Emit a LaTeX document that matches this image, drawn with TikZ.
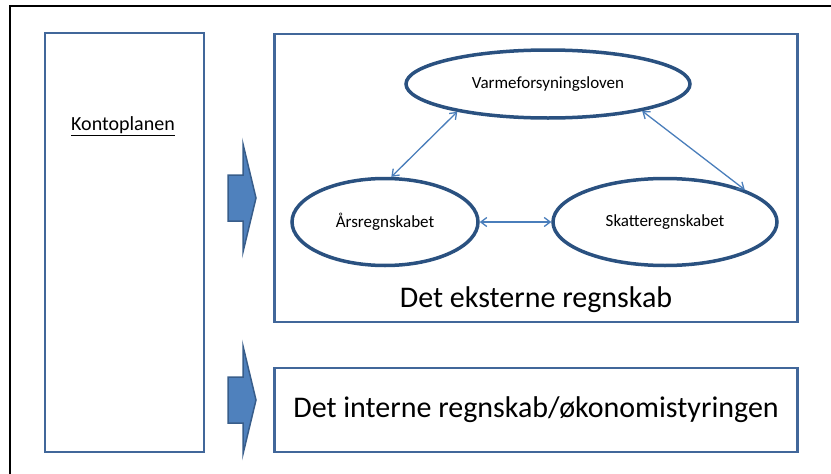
\documentclass[tikz,border=0pt]{standalone}
\usepackage{fontspec}
\setmainfont{Carlito}
\usetikzlibrary{arrows.meta,shapes.geometric}
\definecolor{boxblue}{HTML}{41679A}
\definecolor{ovalblue}{HTML}{2A5180}
\definecolor{linkblue}{HTML}{4A7EBB}
\definecolor{fillblue}{HTML}{4F81BD}
\definecolor{edgeblue}{HTML}{385D8A}
\begin{document}
\begin{tikzpicture}[x=1pt,y=-1pt,
  panel/.style={draw=boxblue, line width=2.5pt, inner sep=0pt},
  oval/.style={draw=ovalblue, line width=3.5pt, ellipse, inner sep=0pt, font=\fontsize{17}{20}\selectfont},
  link/.style={draw=linkblue, line width=1.3pt, {Straight Barb[length=6pt,width=9pt]}-{Straight Barb[length=6pt,width=9pt]}},
  blockarrow/.style={draw=edgeblue, fill=fillblue, line width=1.5pt, line join=miter},
  bigtext/.style={font=\fontsize{30}{36}\selectfont}]

\useasboundingbox (0,0) rectangle (831,474);
% outer frame (only top and left show)
\draw[line width=1.2pt] (831,6) -- (10,6) -- (10,474);

% boxes
\node[panel, minimum width=159pt, minimum height=419pt] (konto) at (124.5,242.5) {};
\node[font=\fontsize{20}{24}\selectfont] (kontotext) at (123,126) {\underline{Kontoplanen}};
\node[panel, minimum width=523pt, minimum height=288pt] (ekstern) at (536,178) {};
\node[panel, minimum width=523pt, minimum height=84pt] (intern) at (536,410) {};

% block arrows
\foreach \cy in {198,400}
  \draw[blockarrow] (228,\cy-23) -- (243,\cy-23) -- (243,\cy-54) -- (256,\cy)
    -- (243,\cy+54) -- (243,\cy+23) -- (228,\cy+23) -- cycle;

% ellipses
\node[oval, minimum width=284pt, minimum height=68pt] (varme) at (548,84) {Varmeforsyningsloven};
\node[oval, minimum width=186pt, minimum height=87pt] (aars) at (385,222) {Årsregnskabet};
\node[oval, minimum width=224pt, minimum height=87pt] (skat) at (665,222) {Skatteregnskabet};

\draw[link] (aars.82) -- (varme.-163);
\draw[link] (varme.-16) -- (skat.22);
\draw[link] (aars) -- (skat);

% labels
\node[bigtext] (eksterntext) at (536,300) {Det eksterne regnskab};
\node[bigtext] (interntext) at (536,410) {Det interne regnskab/økonomistyringen};
\end{tikzpicture}
\end{document}
